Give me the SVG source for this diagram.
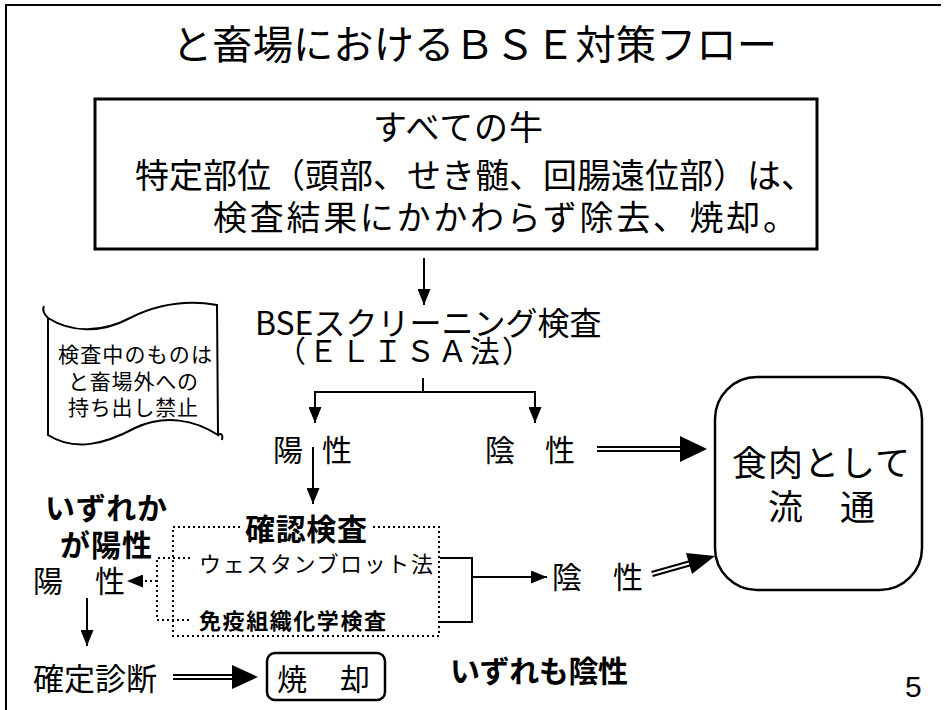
<svg xmlns="http://www.w3.org/2000/svg" width="944" height="710" viewBox="0 0 944 710">
<style>
.t{font-family:"Noto Sans CJK JP","Noto Sans",sans-serif;fill:#000}
.b{font-weight:bold}
.ln{stroke:#000;stroke-width:2;fill:none}
.dot{stroke:#000;stroke-width:2;fill:none;stroke-dasharray:2,3}
.box{fill:#fff;stroke:#000;stroke-width:2.5}
.dbl{stroke:#000;stroke-width:6;fill:none}
.dblw{stroke:#fff;stroke-width:2;fill:none}
</style>
<defs>
<marker id="ah" markerUnits="userSpaceOnUse" markerWidth="16" markerHeight="13" refX="16" refY="6.5" orient="auto">
<path d="M0,0 L16,6.5 L0,13 z" fill="#000"/>
</marker>
</defs>
<rect width="944" height="710" fill="#fff"/>
<path d="M6,710 V5 H941" class="ln"/>
<text id="title" class="t" x="172" y="59" font-size="40" textLength="605" lengthAdjust="spacingAndGlyphs">と畜場におけるＢＳＥ対策フロー</text>

<g id="allcattle">
<rect x="95" y="99" width="722" height="150" fill="#fff" stroke="#000" stroke-width="3"/>
<text class="t" x="373" y="140" font-size="34" textLength="170">すべての牛</text>
<text class="t" x="135" y="188" font-size="34" textLength="680">特定部位（頭部、せき髄、回腸遠位部）は、</text>
<text class="t" x="213" y="230" font-size="34" textLength="584">検査結果にかかわらず除去、焼却。</text>
</g>

<g id="note">
<path d="M48,318 C70,332 100,334 130,318 C158,304 188,300 217,305 L218,435 C195,420 165,414 135,428 C105,444 75,452 48,435 Z" fill="#fff" stroke="#000" stroke-width="2"/>
<path d="M48,318 C44,314 42,310 44,306" class="ln"/>
<path d="M218,435 C222,432 223,436 222,440" class="ln"/>
<text class="t" x="58" y="362" font-size="21" textLength="154">検査中のものは</text>
<text class="t" x="68" y="389" font-size="21" textLength="130">と畜場外への</text>
<text class="t" x="68" y="415" font-size="21" textLength="130">持ち出し禁止</text>
</g>

<g id="screening">
<text class="t" x="255" y="335" font-size="32">BSEスクリーニング検査</text>
<text class="t" x="276" y="362" font-size="30" textLength="256">（ＥＬＩＳＡ法）</text>
</g>

<g id="pos1"><text class="t" x="273 303 322" y="461" font-size="30">陽 性</text></g>
<g id="neg1"><text class="t" x="485 515 545" y="461" font-size="30">陰 性</text></g>

<g id="meat">
<rect x="715" y="377" width="207" height="213" rx="42" ry="42" class="box"/>
<text class="t" x="732" y="476" font-size="35" textLength="178">食肉として</text>
<text class="t" x="768 804 840" y="520" font-size="35">流 通</text>
</g>

<g id="confirm">
<rect x="173" y="527" width="266" height="109" class="dot"/>
<rect x="243" y="514" width="127" height="30" fill="#fff"/>
<text class="t b" x="245" y="540" font-size="30" textLength="122">確認検査</text>
<text class="t" x="199" y="572" font-size="22" textLength="234">ウェスタンブロット法</text>
<text class="t b" x="199" y="629" font-size="22" textLength="187">免疫組織化学検査</text>
</g>

<g id="either">
<text class="t b" x="45" y="519" font-size="30" textLength="122">いずれか</text>
<text class="t b" x="60" y="556" font-size="30" textLength="92">が陽性</text>
</g>
<g id="pos2"><text class="t" x="33 63 95" y="592" font-size="30">陽 性</text></g>
<g id="neg2"><text class="t" x="552 582 613" y="588" font-size="30">陰 性</text></g>
<g id="diag"><text class="t" x="33" y="690" font-size="31" textLength="124">確定診断</text></g>
<g id="burn">
<rect x="267" y="653" width="118" height="47" rx="8" ry="8" class="box"/>
<text class="t" x="277 307 340" y="690" font-size="30">焼 却</text>
</g>
<g id="allneg"><text class="t b" x="450" y="682" font-size="30" textLength="178">いずれも陰性</text></g>
<text id="page" x="905" y="697" font-family="Liberation Sans, sans-serif" font-size="30">5</text>

<g id="connectors">
<line x1="424" y1="258" x2="424" y2="305" class="ln" marker-end="url(#ah)"/>
<line x1="423" y1="378" x2="423" y2="392" class="ln"/>
<path d="M315,392 H535" class="ln"/>
<line x1="315" y1="391" x2="315" y2="423" class="ln" marker-end="url(#ah)"/>
<line x1="535" y1="391" x2="535" y2="423" class="ln" marker-end="url(#ah)"/>
<line x1="313" y1="447" x2="313" y2="504" class="ln" marker-end="url(#ah)"/>
<path d="M440,558 H472 V622 H440" class="ln"/>
<line x1="472" y1="577" x2="547" y2="577" class="ln" marker-end="url(#ah)"/>
<path d="M190,558 H157 V620 H190" class="dot"/>
<line x1="157" y1="581" x2="127" y2="581" class="dot" marker-end="url(#ah)"/>
<line x1="87" y1="598" x2="87" y2="646" class="ln" marker-end="url(#ah)"/>
<line x1="597" y1="449" x2="684" y2="449" class="dbl"/>
<line x1="597" y1="449" x2="684" y2="449" class="dblw"/>
<polygon points="680,436 707,449 680,462" fill="#000"/>
<line x1="652" y1="574" x2="691" y2="563" class="dbl"/>
<line x1="652" y1="574" x2="691" y2="563" class="dblw"/>
<polygon points="715,556 692,574 686,553" fill="#000"/>
<line x1="173" y1="677" x2="236" y2="677" class="dbl"/>
<line x1="173" y1="677" x2="236" y2="677" class="dblw"/>
<polygon points="232,665 258,677 232,689" fill="#000"/>
</g>
</svg>
